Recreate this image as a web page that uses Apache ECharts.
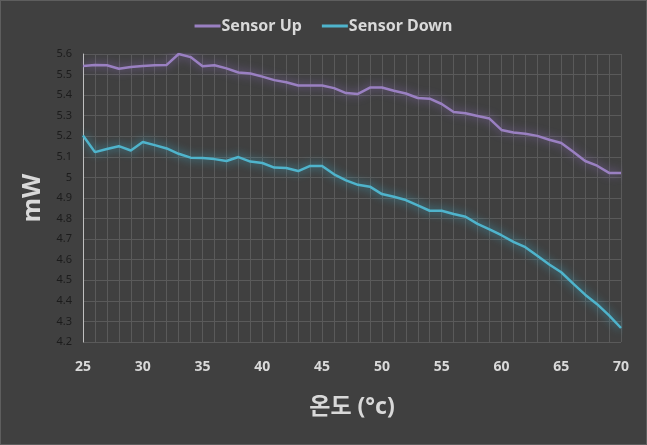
<!DOCTYPE html>
<html>
<head>
<meta charset="utf-8">
<script src="https://cdn.jsdelivr.net/npm/echarts@6/dist/echarts.min.js"></script>
<style>
html,body{margin:0;padding:0;background:#404040;}
#c{width:647px;height:445px;box-sizing:border-box;border:1px solid #5e5e5e;}
</style>
</head>
<body>
<div id="c"></div>
<script>
const temps = [25,26,27,28,29,30,31,32,33,34,35,36,37,38,39,40,41,42,43,44,45,46,47,48,49,50,51,52,53,54,55,56,57,58,59,60,61,62,63,64,65,66,67,68,69,70];
const sensorUp = [5.542,5.547,5.545,5.528,5.537,5.542,5.545,5.547,5.600,5.585,5.540,5.545,5.530,5.510,5.505,5.490,5.473,5.463,5.447,5.447,5.447,5.434,5.410,5.406,5.437,5.437,5.421,5.408,5.386,5.383,5.357,5.318,5.312,5.299,5.286,5.231,5.218,5.212,5.202,5.183,5.167,5.125,5.080,5.057,5.022,5.022];
const sensorDown = [5.204,5.123,5.138,5.152,5.131,5.172,5.157,5.141,5.115,5.096,5.094,5.089,5.080,5.099,5.077,5.070,5.048,5.046,5.031,5.056,5.056,5.015,4.986,4.964,4.955,4.919,4.906,4.890,4.864,4.838,4.838,4.822,4.809,4.774,4.748,4.719,4.687,4.661,4.619,4.577,4.539,4.484,4.430,4.384,4.329,4.268];
const seriesNames = ['Sensor Up','Sensor Down'];
const xTitle = '온도 (°c)';
const yTitle = 'mW';

const chart = echarts.init(document.getElementById('c'));
const font = "'Noto Sans', 'Noto Sans CJK KR', sans-serif";
const gridColor = '#5a5a5a';
chart.setOption({
  backgroundColor: '#404040',
  animation: false,
  textStyle: {fontFamily: font},
  legend: {
    top: 12,
    left: 'center',
    icon: 'rect',
    itemWidth: 26,
    itemHeight: 3,
    itemGap: 20,
    textStyle: {color: '#d9d9d9', fontSize: 16, fontWeight: 'bold', fontFamily: font, padding: [0,0,0,-4]},
    data: seriesNames
  },
  grid: {left: 82, right: 25, top: 53, bottom: 102, containLabel: false},
  xAxis: {
    type: 'value',
    min: 25, max: 70, interval: 5,
    name: xTitle,
    nameLocation: 'middle',
    nameGap: 54,
    nameTextStyle: {color: '#d9d9d9', fontSize: 23, fontWeight: 'bold', fontFamily: font},
    axisLine: {show: false},
    axisTick: {show: false},
    axisLabel: {color: '#d9d9d9', fontSize: 14, fontWeight: 'bold', margin: 18},
    splitLine: {show: true, lineStyle: {color: gridColor, width: 1}},
    minorTick: {show: false, splitNumber: 5},
    minorSplitLine: {show: true, lineStyle: {color: gridColor, width: 1}}
  },
  yAxis: {
    type: 'value',
    min: 4.2, max: 5.6, interval: 0.1,
    name: yTitle,
    nameLocation: 'middle',
    nameGap: 37,
    nameRotate: 90,
    nameTextStyle: {color: '#d9d9d9', fontSize: 25, fontWeight: 'bold', fontFamily: font},
    axisLine: {show: true, onZero: false, lineStyle: {color: '#bfbfbf', width: 1}},
    axisTick: {show: false},
    axisLabel: {color: '#1c1c1c', fontSize: 11, margin: 11,
      formatter: v => String(parseFloat(v.toFixed(1)))},
    splitLine: {show: true, lineStyle: {color: gridColor, width: 1}}
  },
  series: [
    {
      name: seriesNames[0], type: 'line',
      data: temps.map((t,i) => [t, sensorUp[i]]),
      showSymbol: false, symbol: 'none',
      lineStyle: {color: '#9a80c2', width: 2.5, shadowColor: 'rgba(140,110,190,0.9)', shadowBlur: 10},
      itemStyle: {color: '#9a80c2'}
    },
    {
      name: seriesNames[1], type: 'line',
      data: temps.map((t,i) => [t, sensorDown[i]]),
      showSymbol: false, symbol: 'none',
      lineStyle: {color: '#4fb4cc', width: 2.5, shadowColor: 'rgba(60,180,210,0.9)', shadowBlur: 10},
      itemStyle: {color: '#4fb4cc'}
    }
  ]
});
</script>
</body>
</html>
